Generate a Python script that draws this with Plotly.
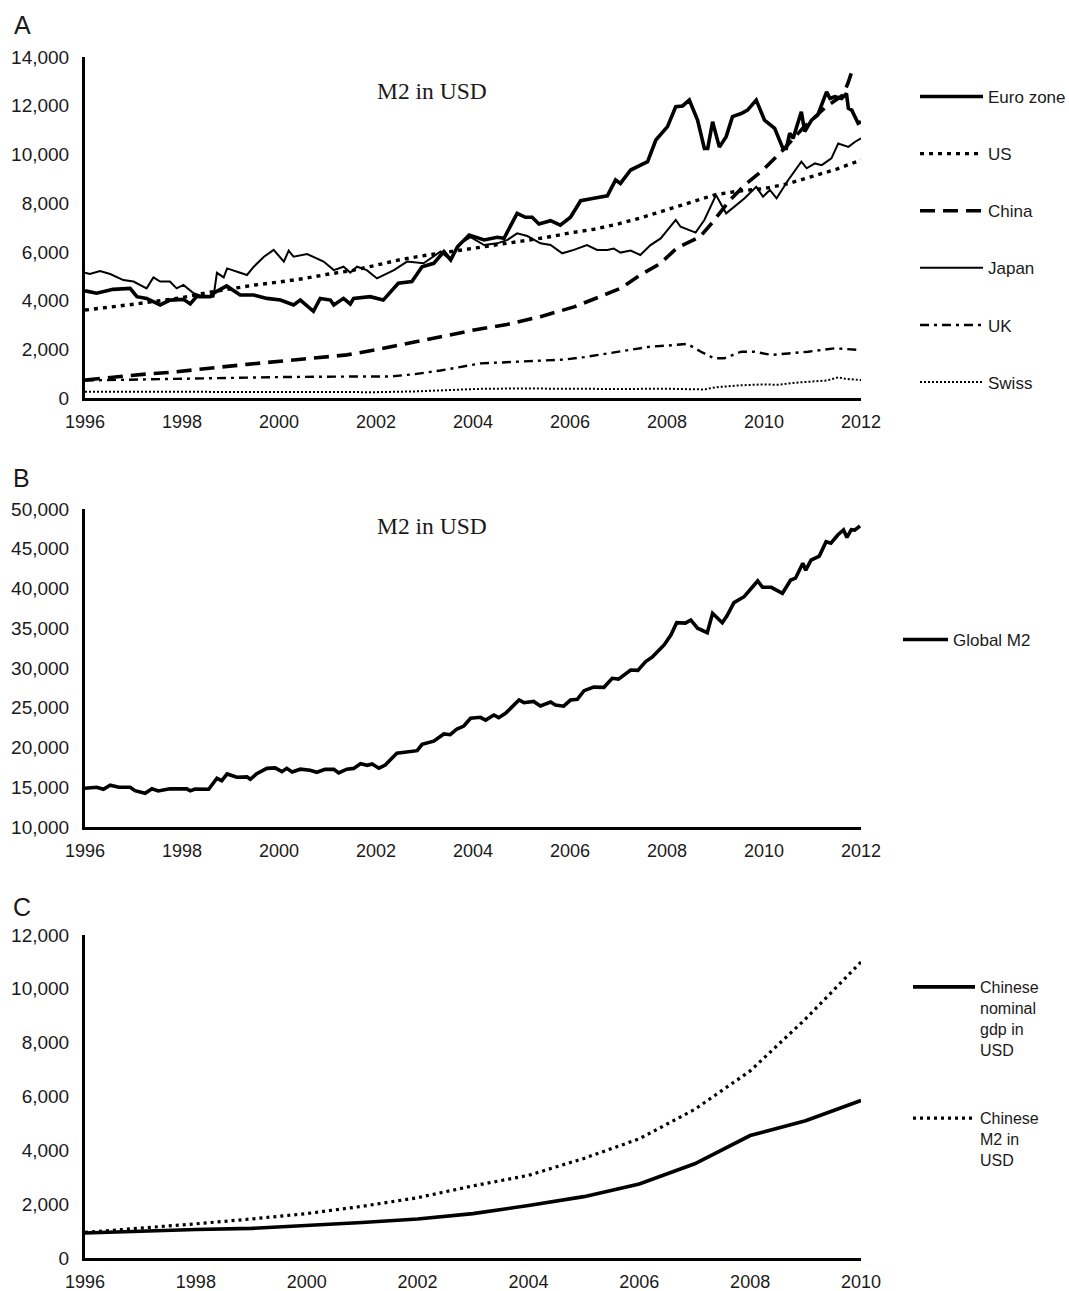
import plotly.graph_objects as go

# ---------------- Panel A: M2 in USD by economy (billions) ----------------
euro_x = [1996.00, 1996.24, 1996.58, 1996.93, 1997.07, 1997.27, 1997.55, 1997.75, 1998.03, 1998.17,
          1998.30, 1998.58, 1998.65, 1998.92, 1999.20, 1999.48, 1999.75, 2000.03, 2000.30, 2000.44,
          2000.71, 2000.85, 2001.06, 2001.13, 2001.33, 2001.47, 2001.54, 2001.88, 2002.15, 2002.46,
          2002.74, 2002.95, 2003.19, 2003.40, 2003.54, 2003.68, 2003.92, 2004.09, 2004.23, 2004.50,
          2004.64, 2004.91, 2005.08, 2005.22, 2005.36, 2005.60, 2005.80, 2006.01, 2006.22, 2006.49,
          2006.77, 2006.94, 2007.04, 2007.25, 2007.60, 2007.77, 2008.01, 2008.18, 2008.32, 2008.46,
          2008.63, 2008.77, 2008.84, 2008.94, 2009.08, 2009.22, 2009.35, 2009.53, 2009.66, 2009.84,
          2010.01, 2010.22, 2010.39, 2010.46, 2010.53, 2010.60, 2010.77, 2010.84, 2010.98, 2011.11,
          2011.29, 2011.36, 2011.46, 2011.60, 2011.70, 2011.74, 2011.81, 2011.94, 2012.00]
euro_y = [4400, 4300, 4460, 4500, 4160, 4090, 3820, 4020, 4050, 3860,
          4160, 4160, 4300, 4600, 4230, 4230, 4090, 4020, 3820, 4020,
          3560, 4090, 4020, 3820, 4090, 3860, 4090, 4160, 4020, 4710,
          4780, 5390, 5530, 6010, 5670, 6210, 6690, 6560, 6490, 6600,
          6560, 7580, 7420, 7420, 7140, 7280, 7100, 7420, 8100, 8200,
          8300, 8950, 8810, 9360, 9700, 10590, 11140, 11960, 11990, 12230,
          11410, 10250, 10250, 11340, 10300, 10730, 11550, 11680, 11820, 12230,
          11410, 11070, 10250, 10250, 10870, 10660, 11750, 10940, 11410, 11620,
          12570, 12300, 12370, 12300, 12500, 11890, 11820, 11280, 11350]

us_x = [1996.0, 1996.5, 1997.0, 1997.5, 1998.0, 1998.5, 1999.0, 1999.5, 2000.0, 2000.5,
        2001.0, 2001.5, 2002.0, 2002.5, 2003.0, 2003.5, 2004.0, 2004.5, 2005.0, 2005.5,
        2006.0, 2006.5, 2007.0, 2007.5, 2008.0, 2008.5, 2009.0, 2009.5, 2010.0, 2010.5,
        2011.0, 2011.5, 2012.0]
us_y = [3610, 3720, 3850, 3980, 4120, 4320, 4480, 4640, 4760, 4900,
        5080, 5230, 5450, 5680, 5850, 5990, 6130, 6280, 6440, 6590,
        6780, 6930, 7150, 7420, 7720, 8050, 8350, 8500, 8600, 8800,
        9100, 9400, 9770]

china_x = [1996.0, 1996.6, 1997.27, 1997.8, 1998.3, 1998.8, 1999.34, 1999.85, 2000.37, 2000.9,
           2001.4, 2002.0, 2002.64, 2003.3, 2004.02, 2004.7, 2005.39, 2006.1, 2006.63, 2007.04,
           2007.45, 2007.86, 2008.2, 2008.68, 2008.95, 2009.3, 2009.64, 2009.98, 2010.39, 2010.8,
           2011.28, 2011.63, 2011.73, 2011.82]
china_y = [740, 860, 985, 1060, 1150, 1270, 1380, 1470, 1560, 1660,
           1770, 1980, 2240, 2520, 2790, 3020, 3340, 3750, 4190, 4500,
           5050, 5520, 6150, 6620, 7240, 8130, 8810, 9360, 10180, 11070,
           11960, 12440, 12920, 13450]

japan_x = [1996.00, 1996.10, 1996.31, 1996.52, 1996.79, 1997.00, 1997.27, 1997.41, 1997.55, 1997.75,
           1997.89, 1998.03, 1998.24, 1998.44, 1998.65, 1998.72, 1998.86, 1998.93, 1999.20, 1999.34,
           1999.48, 1999.69, 1999.89, 2000.10, 2000.20, 2000.30, 2000.58, 2000.71, 2000.92, 2001.13,
           2001.33, 2001.47, 2001.61, 2001.81, 2002.02, 2002.37, 2002.64, 2002.98, 2003.33, 2003.54,
           2003.74, 2003.95, 2004.23, 2004.50, 2004.71, 2004.91, 2005.12, 2005.39, 2005.60, 2005.84,
           2006.08, 2006.35, 2006.56, 2006.77, 2006.90, 2007.04, 2007.25, 2007.45, 2007.66, 2007.87,
           2008.18, 2008.28, 2008.59, 2008.77, 2009.01, 2009.22, 2009.39, 2009.60, 2009.84, 2009.98,
           2010.12, 2010.26, 2010.50, 2010.77, 2010.88, 2011.05, 2011.19, 2011.39, 2011.53, 2011.74,
           2011.88, 2012.00]
japan_y = [5140, 5090, 5210, 5090, 4840, 4780, 4500, 4950, 4780, 4780,
           4500, 4640, 4300, 4160, 4160, 5140, 4950, 5320, 5140, 5050,
           5390, 5800, 6080, 5600, 6050, 5800, 5910, 5780, 5600, 5250,
           5390, 5150, 5390, 5250, 4910, 5250, 5600, 5530, 6010, 5670,
           6350, 6600, 6280, 6350, 6490, 6760, 6650, 6350, 6280, 5940,
           6080, 6280, 6080, 6080, 6140, 5970, 6050, 5870, 6280, 6550,
           7310, 7030, 6790, 7310, 8330, 7580, 7850, 8200, 8670, 8260,
           8540, 8200, 8950, 9700, 9430, 9630, 9560, 9840, 10450, 10310,
           10520, 10660]

uk_x = [1996.0, 1997.27, 1998.65, 2000.03, 2001.4, 2002.29, 2002.8, 2003.33, 2004.16, 2004.8,
        2005.39, 2005.9, 2006.3, 2006.77, 2007.2, 2007.66, 2008.0, 2008.42, 2008.7, 2008.97,
        2009.18, 2009.53, 2009.8, 2010.15, 2010.5, 2010.91, 2011.46, 2011.75, 2012.0]
uk_y = [720, 770, 810, 860, 880, 880, 980, 1130, 1420, 1480,
        1560, 1580, 1680, 1830, 1950, 2110, 2150, 2220, 1900, 1630,
        1630, 1900, 1900, 1770, 1830, 1900, 2040, 2000, 1970]

swiss_x = [1996.0, 1997.0, 1998.0, 1999.0, 2000.0, 2001.0, 2002.0, 2002.8, 2003.5, 2004.2,
           2005.0, 2006.0, 2007.0, 2008.0, 2008.77, 2009.0, 2009.5, 2010.0, 2010.3, 2010.6,
           2011.0, 2011.3, 2011.53, 2011.7, 2012.0]
swiss_y = [260, 260, 250, 260, 250, 230, 240, 270, 330, 380,
           390, 370, 370, 380, 350, 440, 520, 560, 540, 620,
           660, 720, 850, 780, 740]

# ---------------- Panel B: global M2 in USD (billions) ----------------
global_x = [1996.00, 1996.24, 1996.38, 1996.52, 1996.70, 1996.93, 1997.03, 1997.24, 1997.38, 1997.51,
            1997.75, 1998.03, 1998.10, 1998.17, 1998.27, 1998.55, 1998.72, 1998.82, 1998.93, 1999.13,
            1999.34, 1999.41, 1999.54, 1999.75, 1999.92, 2000.06, 2000.16, 2000.27, 2000.44, 2000.64,
            2000.78, 2000.95, 2001.13, 2001.23, 2001.40, 2001.54, 2001.68, 2001.82, 2001.92, 2002.06,
            2002.19, 2002.43, 2002.57, 2002.85, 2002.95, 2003.19, 2003.40, 2003.53, 2003.67, 2003.81,
            2003.95, 2004.15, 2004.26, 2004.43, 2004.53, 2004.67, 2004.95, 2005.05, 2005.25, 2005.39,
            2005.60, 2005.70, 2005.87, 2006.01, 2006.15, 2006.29, 2006.49, 2006.70, 2006.87, 2007.00,
            2007.25, 2007.40, 2007.56, 2007.70, 2007.94, 2008.08, 2008.20, 2008.38, 2008.49, 2008.63,
            2008.83, 2008.94, 2009.14, 2009.24, 2009.38, 2009.59, 2009.87, 2009.97, 2010.15, 2010.28,
            2010.38, 2010.55, 2010.65, 2010.80, 2010.86, 2010.97, 2011.14, 2011.28, 2011.38, 2011.52,
            2011.64, 2011.71, 2011.80, 2011.87, 2011.98]
global_y = [14870, 14990, 14740, 15250, 15000, 15000, 14570, 14240, 14800, 14530,
            14800, 14740, 14800, 14550, 14780, 14750, 16130, 15820, 16670, 16250,
            16300, 16000, 16700, 17380, 17430, 16960, 17380, 16920, 17270, 17130,
            16880, 17270, 17250, 16800, 17270, 17370, 17960, 17760, 17930, 17400,
            17800, 19270, 19350, 19600, 20400, 20800, 21700, 21610, 22330, 22700,
            23670, 23800, 23450, 24090, 23750, 24300, 25970, 25640, 25800, 25220,
            25720, 25350, 25200, 25970, 26060, 27150, 27600, 27570, 28700, 28600,
            29750, 29700, 30800, 31400, 32900, 34150, 35700, 35650, 36040, 35000,
            34440, 36880, 35700, 36600, 38220, 38970, 40950, 40150, 40150, 39770,
            39400, 41070, 41300, 43170, 42300, 43580, 44080, 45890, 45700, 46730,
            47360, 46430, 47400, 47350, 47860]

# ---------------- Panel C: China, annual (billions USD) ----------------
cn_years = list(range(1996, 2011))
cn_gdp = [930, 1000, 1060, 1100, 1200, 1320, 1450, 1650, 1950, 2280, 2750, 3500, 4550, 5100, 5850]
cn_m2 = [950, 1100, 1270, 1450, 1650, 1920, 2240, 2680, 3070, 3700, 4430, 5520, 6950, 8880, 11000]

year_ticks_a = list(range(1996, 2013, 2))
year_ticks_c = list(range(1996, 2011, 2))

W, H = 1069, 1291
SANS = "Liberation Sans, Arial, sans-serif"
SERIF = "Liberation Serif, Times New Roman, serif"
INK = "#1a1a1a"


def px_x(p):
    return p / W


def px_y(p):
    return 1 - p / H


fig = go.Figure()

panel_a = [
    ("Euro zone", euro_x, euro_y, 3.6, "solid"),
    ("US", us_x, us_y, 3.4, "4px,5px"),
    ("China", china_x, china_y, 3.6, "15px,8px"),
    ("Japan", japan_x, japan_y, 2.0, "solid"),
    ("UK", uk_x, uk_y, 2.4, "9px,5px,3px,5px"),
    ("Swiss", swiss_x, swiss_y, 2.0, "2px,2px"),
]
for name, xs, ys, w, dash in panel_a:
    fig.add_trace(go.Scatter(x=xs, y=ys, name=name, mode="lines",
                             line=dict(color="black", width=w, dash=dash),
                             xaxis="x", yaxis="y", legend="legend", legendgroup=name))

fig.add_trace(go.Scatter(x=global_x, y=global_y, name="Global M2", mode="lines",
                         line=dict(color="black", width=3.6),
                         xaxis="x2", yaxis="y2", legend="legend2"))

fig.add_trace(go.Scatter(x=cn_years, y=cn_gdp, name="Chinese<br>nominal<br>gdp in<br>USD",
                         mode="lines", line=dict(color="black", width=3.6),
                         xaxis="x3", yaxis="y3", legend="legend3", legendgroup="gdp"))
fig.add_trace(go.Scatter(x=cn_years, y=cn_m2, name="Chinese<br>M2 in<br>USD",
                         mode="lines", line=dict(color="black", width=3.2, dash="3px,4px"),
                         xaxis="x3", yaxis="y3", legend="legend3", legendgroup="m2"))


def xaxis(rng, ticks, yname, dom):
    return dict(domain=dom, range=rng, tickvals=ticks, ticktext=[str(t) for t in ticks],
                showline=True, linecolor="black", linewidth=3, showgrid=False, zeroline=False,
                ticks="", tickfont=dict(family=SANS, size=18, color=INK), anchor=yname,
                ticklabelstandoff=5, automargin=False)


def yaxis(rng, ticks, xname, dom):
    return dict(domain=dom, range=rng, tickvals=ticks, ticktext=[f"{t:,}" for t in ticks],
                showline=True, linecolor="black", linewidth=3, showgrid=False, zeroline=False,
                ticks="", tickfont=dict(family=SANS, size=19, color=INK), anchor=xname,
                ticklabelstandoff=9, automargin=False)


xdom = [px_x(85), px_x(861)]
ydom_a = [px_y(398), px_y(57)]
ydom_b = [px_y(827), px_y(509)]
ydom_c = [px_y(1258), px_y(935)]

legend_common = dict(bgcolor="rgba(0,0,0,0)", borderwidth=0,
                     traceorder="grouped", xanchor="left", yanchor="top",
                     itemclick=False, itemdoubleclick=False)
legend_font = dict(family=SANS, size=17, color=INK)

fig.update_layout(
    width=W, height=H, margin=dict(l=0, r=0, t=0, b=0, autoexpand=False),
    paper_bgcolor="white", plot_bgcolor="white",
    showlegend=True,
    xaxis=xaxis([1996, 2012], year_ticks_a, "y", xdom),
    yaxis=yaxis([0, 14000], list(range(0, 14001, 2000)), "x", ydom_a),
    xaxis2=xaxis([1996, 2012], year_ticks_a, "y2", xdom),
    yaxis2=yaxis([10000, 50000], list(range(10000, 50001, 5000)), "x2", ydom_b),
    xaxis3=xaxis([1996, 2010], year_ticks_c, "y3", xdom),
    yaxis3=yaxis([0, 12000], list(range(0, 12001, 2000)), "x3", ydom_c),
    legend=dict(x=px_x(915), y=px_y(79), tracegroupgap=32, itemwidth=63, font=legend_font,
                **legend_common),
    legend2=dict(x=px_x(898), y=px_y(622), itemwidth=45, font=legend_font, **legend_common),
    legend3=dict(x=px_x(908), y=px_y(970), tracegroupgap=45, itemwidth=62, valign="top",
                 font=dict(family=SANS, size=16, color=INK), **legend_common),
)

annotations = [
    dict(text="M2 in USD", x=px_x(432), y=px_y(91), font=dict(family=SERIF, size=23.5, color=INK)),
    dict(text="M2 in USD", x=px_x(432), y=px_y(526), font=dict(family=SERIF, size=23.5, color=INK)),
    dict(text="A", x=px_x(22.5), y=px_y(25), font=dict(family=SANS, size=25, color=INK)),
    dict(text="B", x=px_x(21.5), y=px_y(478), font=dict(family=SANS, size=25, color=INK)),
    dict(text="C", x=px_x(21.5), y=px_y(907), font=dict(family=SANS, size=25, color=INK)),
]
for a in annotations:
    a.update(xref="paper", yref="paper", showarrow=False, xanchor="center", yanchor="middle")
fig.update_layout(annotations=annotations)

fig.write_html("out.html")
